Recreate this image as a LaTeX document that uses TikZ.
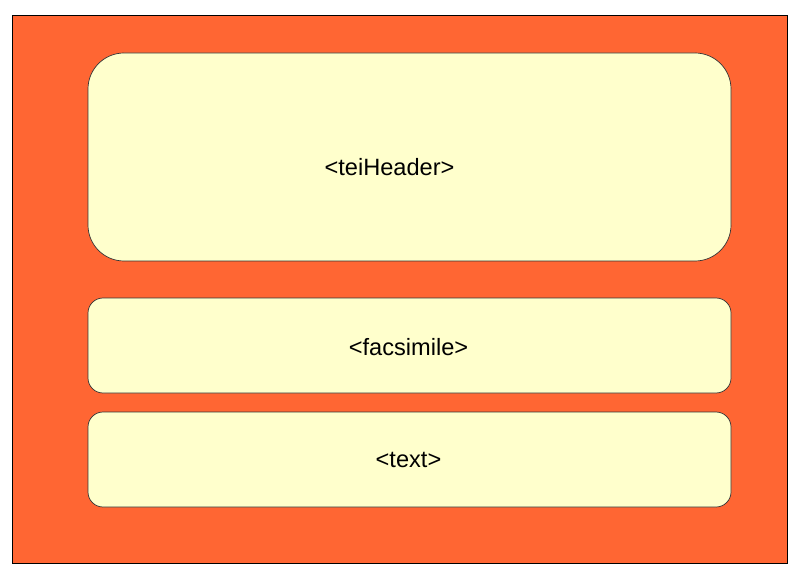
\documentclass[tikz,border=0pt]{standalone}
\usepackage{fontspec}
\setmainfont{Liberation Sans}
\definecolor{docorange}{HTML}{FF6633}
\definecolor{partfill}{HTML}{FFFFCC}
\begin{document}
\begin{tikzpicture}[x=1pt,y=-1pt,
  part/.style={draw=black!80, line width=0.7pt, fill=partfill},
  lbl/.style={font=\fontsize{23.6}{28}\selectfont, inner sep=0pt}]
  \useasboundingbox (0,0) rectangle (798,580);
  % TEI document frame
  \draw[fill=docorange, line width=0.8pt] (12,15) rectangle (787,563);
  % header, facsimile and text parts
  \draw[part, rounded corners=36pt] (88,53) rectangle (731,261);
  \draw[part, rounded corners=15pt] (88,298) rectangle (731,393);
  \draw[part, rounded corners=15pt] (88,412) rectangle (731,507);
  \node[lbl] (hdr) at (389.5,167) {<teiHeader>};
  \node[lbl] (fac) at (408.5,347) {<facsimile>};
  \node[lbl] (txt) at (408.5,460) {<text>};
\end{tikzpicture}
\end{document}
